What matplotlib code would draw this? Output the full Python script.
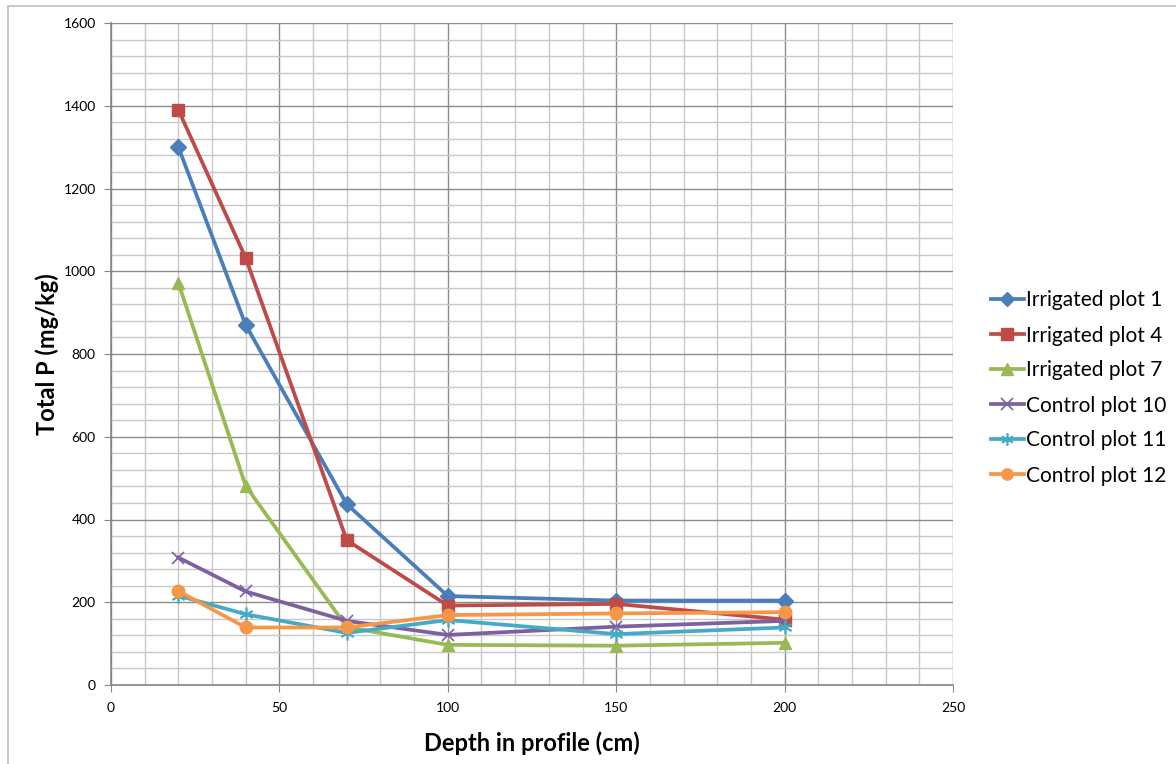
import matplotlib
matplotlib.use("Agg")
import matplotlib.pyplot as plt
from matplotlib.ticker import MultipleLocator
from matplotlib.patches import Rectangle

depth = [20, 40, 70, 100, 150, 200]
irrigated_1 = [1300, 870, 437, 215, 204, 204]
irrigated_4 = [1390, 1032, 350, 192, 196, 158]
irrigated_7 = [972, 481, 140, 97, 95, 102]
control_10 = [308, 226, 155, 121, 141, 155]
control_11 = [216, 171, 126, 157, 123, 139]
control_12 = [227, 139, 139, 169, 173, 176]

series = [
    ("Irrigated plot 1", irrigated_1, "#4A7EBB", "D", 8),
    ("Irrigated plot 4", irrigated_4, "#BE4B48", "s", 9),
    ("Irrigated plot 7", irrigated_7, "#98B954", "^", 9),
    ("Control plot 10", control_10, "#7D60A0", "x", 9),
    ("Control plot 11", control_11, "#46AAC5", "*", 9),
    ("Control plot 12", control_12, "#F79646", "o", 9),
]

plt.rcParams['font.family'] = ['Lato', 'DejaVu Sans']

fig = plt.figure(figsize=(11.76, 7.64), dpi=100)
ax = fig.add_axes([111/1176, 1-685/764, (953-111)/1176, (685-23)/764])

# border of chart area
fig.patches.append(Rectangle((8/1176, -0.05), 1.1, 1-6/764+0.05, transform=fig.transFigure,
                             fill=False, edgecolor="#bfbfbf", lw=1.2))

for name, vals, col, mk, ms in series:
    if mk == "x":
        ax.plot(depth, vals, color=col, lw=2.7, marker=mk, ms=ms, mew=1.2, label=name, zorder=3)
    elif mk == "*":
        ax.plot(depth, vals, color=col, lw=2.7, marker=(6, 2, 0), ms=ms+1, mew=1.2, label=name, zorder=3)
    else:
        ax.plot(depth, vals, color=col, lw=2.7, marker=mk, ms=ms, mec=col, label=name, zorder=3)

ax.set_xlim(0, 250)
ax.set_ylim(0, 1600)
ax.xaxis.set_major_locator(MultipleLocator(50))
ax.xaxis.set_minor_locator(MultipleLocator(10))
ax.yaxis.set_major_locator(MultipleLocator(200))
ax.yaxis.set_minor_locator(MultipleLocator(40))
ax.grid(which="major", color="#8c8c8c", lw=1, zorder=0)
ax.grid(which="minor", color="#c8c8c8", lw=1, zorder=0)
ax.set_axisbelow(True)
for s in ["top", "right"]:
    ax.spines[s].set_visible(False)
for s in ["left", "bottom"]:
    ax.spines[s].set_color("#868686")
    ax.spines[s].set_linewidth(1.2)
ax.tick_params(which="major", direction="out", length=5, color="#868686", labelsize=10, pad=6)
ax.tick_params(which="minor", length=0)
ax.tick_params(axis="x", pad=7)

ax.set_xlabel("Depth in profile (cm)", fontsize=17, fontweight="bold", labelpad=13)
ax.set_ylabel("Total P (mg/kg)", fontsize=17, fontweight="bold", labelpad=3)

leg = fig.legend(loc="center left", bbox_to_anchor=(972/1176, 1-388/764), frameon=False,
                 fontsize=15, handlelength=1.6, handletextpad=0.1, labelspacing=0.72,
                 markerscale=0.9)

fig.savefig("out.png", dpi=100)
